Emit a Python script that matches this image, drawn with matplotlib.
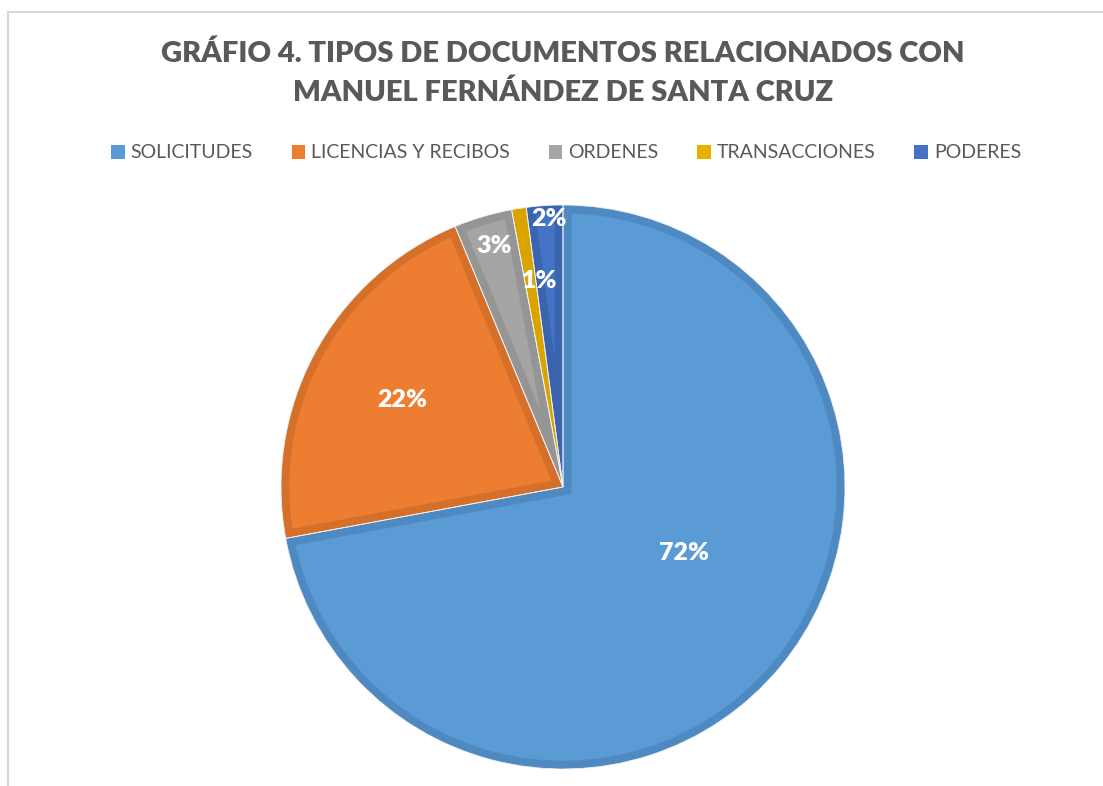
import matplotlib.pyplot as plt
from matplotlib.patches import Rectangle, Patch

# document counts per type
categories = ["SOLICITUDES", "LICENCIAS Y RECIBOS", "ORDENES", "TRANSACCIONES", "PODERES"]
counts = [173, 52, 8, 2, 5]
colors = ["#5B9BD5", "#ED7D31", "#A5A5A5", "#E8AE00", "#4472C4"]
edges = ["#4F89C1", "#D5702B", "#959595", "#D9A300", "#3B64AF"]
# where each percent label sits (pie radius = 1)
label_pos = [(0.43, -0.235), (-0.57, 0.31), (-0.245, 0.855), (-0.085, 0.73), (-0.05, 0.95)]

fig = plt.figure(figsize=(11.03, 7.86), dpi=100)
W, H = 1103, 786
cx, cy, r = 563, 487, 282
ax = fig.add_axes([(cx - r) / W, (H - cy - r) / H, 2 * r / W, 2 * r / H])

wedges, texts, autotexts = ax.pie(counts, colors=colors, startangle=90, counterclock=False,
                                  radius=1, autopct='%.0f%%',
                                  wedgeprops=dict(linewidth=12, joinstyle='miter'),
                                  textprops=dict(color='white', fontsize=18, fontweight='heavy',
                                                 family='Lato'))
for w, ec in zip(wedges, edges):
    w.set_edgecolor(ec)
    w.set_clip_on(True)
    w.set_clip_path(w)

# thin white separators
ax.pie(counts, startangle=90, counterclock=False, radius=1,
       wedgeprops=dict(fill=False, edgecolor='#F2F2F2', linewidth=0.6))

for t, (x, y) in zip(autotexts, label_pos):
    t.set_position((x, y))

ax.set_xlim(-1.0, 1.0)
ax.set_ylim(-1.0, 1.0)
ax.set_aspect('equal')
ax.axis('off')

fig.text(563 / W, 1 - 73 / H, "GRÁFIO 4. TIPOS DE DOCUMENTOS RELACIONADOS CON\nMANUEL FERNÁNDEZ DE SANTA CRUZ",
         ha='center', va='center', fontsize=21, fontweight='heavy', color='#595959',
         family='Lato', linespacing=1.6)

handles = [Patch(facecolor=c, edgecolor='none') for c in colors]
fig.legend(handles, categories, loc='center', bbox_to_anchor=(566 / W, 1 - 153 / H), ncol=5,
           frameon=False, prop=dict(family='Lato', size=14), labelcolor='#595959',
           handlelength=0.7, handleheight=0.7, handletextpad=0.3, columnspacing=2.0)

# chart frame (left and top edges visible)
fig.add_artist(Rectangle((8 / W, -0.1), 1.2, 1.1 - 12 / H, transform=fig.transFigure,
                         fill=False, edgecolor='#D9D9D9', linewidth=1.5))

fig.savefig("out.png", dpi=100)
